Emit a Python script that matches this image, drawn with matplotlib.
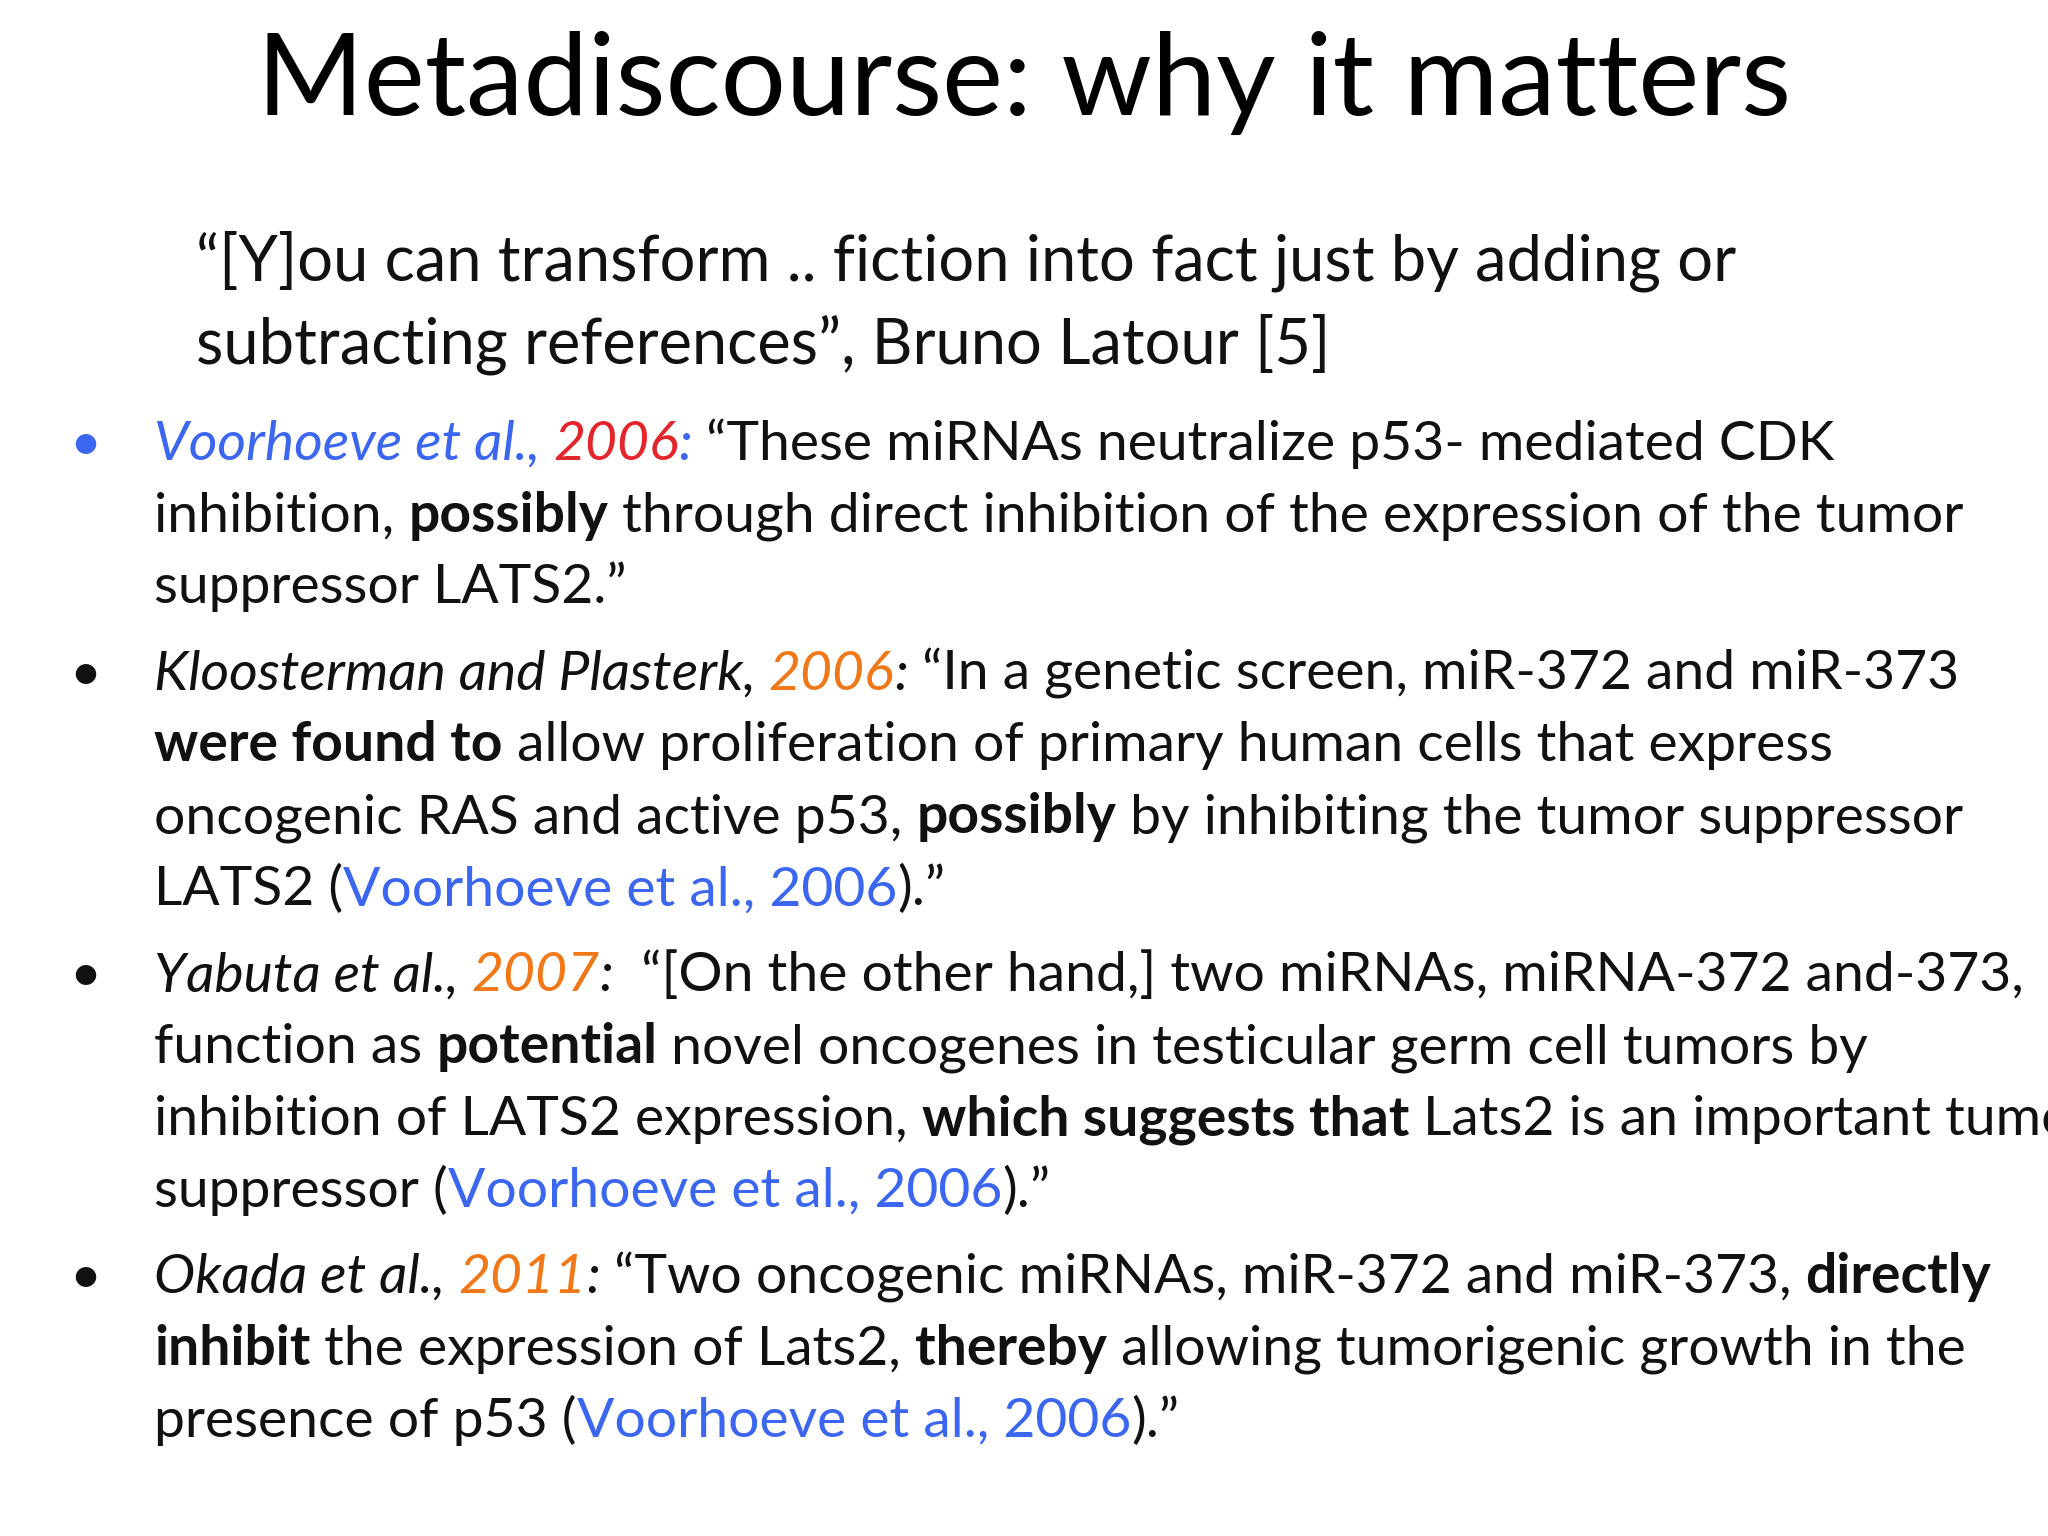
import matplotlib
matplotlib.use("Agg")
import matplotlib.pyplot as plt

S = 2048 / 1568  # reference measured at 1568 px wide
BLUE = "#3b66f0"
RED = "#e3262b"
ORANGE = "#f07818"
BLACK = "#111111"

title = "Metadiscourse: why it matters"

# each segment: (text, color, style, weight)
quote_lines = [
    [("\u201c[Y]ou can transform .. fiction into fact just by adding or", BLACK, "normal", "normal")],
    [("subtracting references\u201d, Bruno Latour [5]", BLACK, "normal", "normal")],
]

bullets = [
    [
        [("Voorhoeve et al., ", BLUE, "italic", "normal"), ("2006", RED, "italic", "normal"),
         (":", BLUE, "italic", "normal"), (" \u201cThese miRNAs neutralize p53- mediated CDK", BLACK, "normal", "normal")],
        [("inhibition, ", BLACK, "normal", "normal"), ("possibly", BLACK, "normal", "bold"),
         (" through direct inhibition of the expression of the tumor", BLACK, "normal", "normal")],
        [("suppressor LATS2.\u201d", BLACK, "normal", "normal")],
    ],
    [
        [("Kloosterman and Plasterk, ", BLACK, "italic", "normal"), ("2006", ORANGE, "italic", "normal"),
         (":", BLACK, "italic", "normal"), (" \u201cIn a genetic screen, miR-372 and miR-373", BLACK, "normal", "normal")],
        [("were found to", BLACK, "normal", "bold"),
         (" allow proliferation of primary human cells that express", BLACK, "normal", "normal")],
        [("oncogenic RAS and active p53, ", BLACK, "normal", "normal"), ("possibly", BLACK, "normal", "bold"),
         (" by inhibiting the tumor suppressor", BLACK, "normal", "normal")],
        [("LATS2 (", BLACK, "normal", "normal"), ("Voorhoeve et al., 2006", BLUE, "normal", "normal"),
         (").\u201d", BLACK, "normal", "normal")],
    ],
    [
        [("Yabuta et al., ", BLACK, "italic", "normal"), ("2007", ORANGE, "italic", "normal"),
         (":", BLACK, "italic", "normal"),
         ("  \u201c[On the other hand,] two miRNAs, miRNA-372 and-373,", BLACK, "normal", "normal")],
        [("function as ", BLACK, "normal", "normal"), ("potential", BLACK, "normal", "bold"),
         (" novel oncogenes in testicular germ cell tumors by", BLACK, "normal", "normal")],
        [("inhibition of LATS2 expression, ", BLACK, "normal", "normal"),
         ("which suggests that", BLACK, "normal", "bold"),
         (" Lats2 is an important tumor", BLACK, "normal", "normal")],
        [("suppressor (", BLACK, "normal", "normal"), ("Voorhoeve et al., 2006", BLUE, "normal", "normal"),
         (").\u201d", BLACK, "normal", "normal")],
    ],
    [
        [("Okada et al., ", BLACK, "italic", "normal"), ("2011", ORANGE, "italic", "normal"),
         (":", BLACK, "italic", "normal"),
         (" \u201cTwo oncogenic miRNAs, miR-372 and miR-373, ", BLACK, "normal", "normal"),
         ("directly", BLACK, "normal", "bold")],
        [("inhibit", BLACK, "normal", "bold"), (" the expression of Lats2, ", BLACK, "normal", "normal"),
         ("thereby", BLACK, "normal", "bold"),
         (" allowing tumorigenic growth in the", BLACK, "normal", "normal")],
        [("presence of p53 (", BLACK, "normal", "normal"), ("Voorhoeve et al., 2006", BLUE, "normal", "normal"),
         (").\u201d", BLACK, "normal", "normal")],
    ],
]
bullet_colors = [BLUE, BLACK, BLACK, BLACK]
bullet_baselines = [352, 528, 759, 990]
quote_baselines = [215, 278]
line_gap = 55

FONT = "Lato"
BODY = 39.8
QUOTE = 45.5
TITLE = 83

fig = plt.figure(figsize=(20.48, 15.36), dpi=100)
fig.patch.set_facecolor("white")
renderer = fig.canvas.get_renderer()


def px(x, y):
    return x * S, (1176 - y) * S


def draw_line(x, y, segs, size):
    X, Y = px(x, y)
    for text, color, style, weight in segs:
        t = fig.text(X, Y, text, transform=None, color=color, fontstyle=style,
                     fontweight=weight, fontsize=size, family=FONT, va="baseline", ha="left")
        X = t.get_window_extent(renderer).x1


tX, tY = px(784, 88)
fig.text(tX, tY, title, transform=None, fontsize=TITLE, family=FONT, ha="center", va="baseline", color="black")

for segs, y in zip(quote_lines, quote_baselines):
    draw_line(150, y, segs, QUOTE)

for lines, y0, bc in zip(bullets, bullet_baselines, bullet_colors):
    bx, by = px(65, y0)
    fig.text(bx, by, "\u2022", transform=None, fontsize=BODY, family=FONT, color=bc, ha="center", va="baseline")
    for i, segs in enumerate(lines):
        draw_line(118, y0 + i * line_gap, segs, BODY)

fig.savefig("out.png", dpi=100)
